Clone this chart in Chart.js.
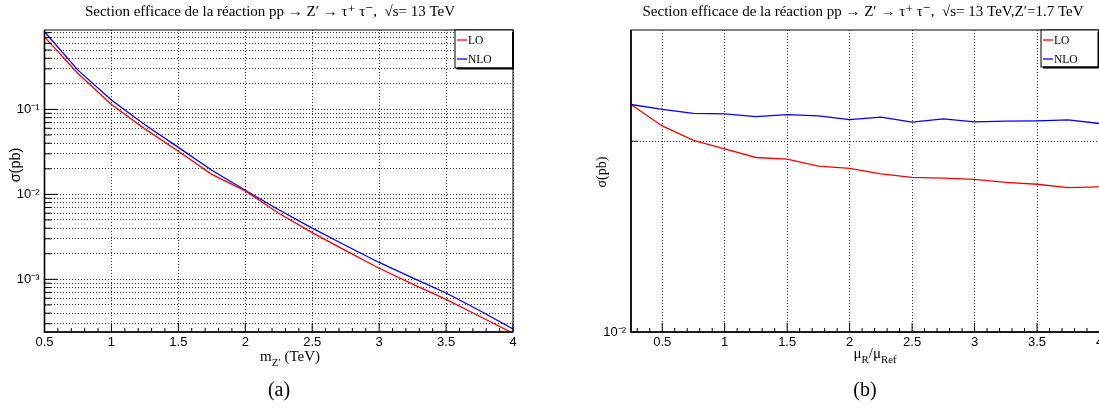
<!DOCTYPE html>
<html>
<head>
<meta charset="utf-8">
<script src="https://cdn.jsdelivr.net/npm/chart.js@4.4.0/dist/chart.umd.min.js"></script>
<style>
  html, body { margin: 0; padding: 0; background: #fff; overflow: hidden; width: 1099px; height: 412px; }
  .panel { position: absolute; top: 0; height: 412px; }
  #wrapA { left: 0; width: 540px; }
  #wrapB { left: 560px; width: 606px; }
</style>
</head>
<body>
<div id="wrapA" class="panel"><canvas id="chartA" width="540" height="412"></canvas></div>
<div id="wrapB" class="panel"><canvas id="chartB" width="606" height="412"></canvas></div>
<script>
// ─── Data ──────────────────────────────────────────────────────
// (a) cross section vs Z' mass (TeV)
const MASS = [0.5, 0.75, 1.0, 1.25, 1.5, 1.75, 2.0, 2.25, 2.5, 2.75, 3.0, 3.25, 3.5, 3.75, 4.0];
const SIGMA_LO_MASS  = [0.715, 0.265, 0.114, 0.059, 0.0322, 0.0172, 0.0110, 0.0060, 0.00355, 0.00218, 0.00135, 0.00088, 0.00058, 0.000368, 0.000232];
const SIGMA_NLO_MASS = [0.82, 0.29, 0.129, 0.066, 0.0357, 0.0192, 0.0112, 0.0066, 0.0040, 0.0025, 0.00158, 0.00104, 0.00069, 0.00043, 0.00026];

// (b) cross section vs renormalisation scale ratio, M(Z') = 1.7 TeV
const MU_RATIO = [0.25, 0.5, 0.75, 1.0, 1.25, 1.5, 1.75, 2.0, 2.25, 2.5, 2.75, 3.0, 3.25, 3.5, 3.75, 4.0];
const SIGMA_LO_MU  = [0.1558, 0.1203, 0.1010, 0.0913, 0.0822, 0.0806, 0.0741, 0.0720, 0.0674, 0.0647, 0.0641, 0.0631, 0.0608, 0.0595, 0.0571, 0.0576];
const SIGMA_NLO_MU = [0.1558, 0.1469, 0.1399, 0.1393, 0.1347, 0.1380, 0.1360, 0.1298, 0.1337, 0.1261, 0.1310, 0.1262, 0.1275, 0.1280, 0.1295, 0.1239];

const X_TICKS = [0.5, 1, 1.5, 2, 2.5, 3, 3.5, 4];
const Y_LABELS_A = [1e-3, 1e-2, 1e-1];
const Y_LABELS_B = [1e-2];
const Y_GRID_B = [1e-2, 1e-1];
const POW_TEXT = { '-1': '10⁻¹', '-2': '10⁻²', '-3': '10⁻³' };

const SERIF = '"Liberation Serif", "DejaVu Serif", serif';
const SANS = '"Liberation Sans", Arial, sans-serif';
const RED = '#ff0000';
const BLUE = '#0000ff';

// ─── Helpers ───────────────────────────────────────────────────
function isLabelled(v, list) {
    return list.some(l => Math.abs(Math.log10(v) - Math.log10(l)) < 1e-6);
}

function seg(ctx, x1, y1, x2, y2) {
    ctx.beginPath(); ctx.moveTo(x1, y1); ctx.lineTo(x2, y2); ctx.stroke();
}

// text made of runs: [text, 'sub' | 'sup' | undefined]
function drawRuns(ctx, runs, cx, baseY, size) {
    const pieces = runs.map(([t, mode]) => {
        const s = mode ? size * 0.72 : size;
        ctx.font = `${s}px ${SERIF}`;
        return { t, mode, s, w: ctx.measureText(t).width };
    });
    const total = pieces.reduce((a, p) => a + p.w, 0);
    let x = cx - total / 2;
    ctx.textAlign = 'left';
    ctx.textBaseline = 'alphabetic';
    for (const p of pieces) {
        ctx.font = `${p.s}px ${SERIF}`;
        const dy = p.mode === 'sub' ? size * 0.32 : p.mode === 'sup' ? -size * 0.4 : 0;
        ctx.fillText(p.t, x, baseY + dy);
        x += p.w;
    }
}

// ─── ROOT-like frame, inner ticks, legend box, titles ─────────
const rootFrame = {
    id: 'rootFrame',
    afterDraw(chart, args, opts) {
        const { ctx, chartArea: a, scales: { x, y } } = chart;
        ctx.save();
        ctx.strokeStyle = '#000';
        ctx.lineWidth = 1;
        ctx.strokeRect(a.left, a.top, a.right - a.left, a.bottom - a.top);
        ctx.lineWidth = 1.6;
        ctx.beginPath();
        ctx.moveTo(a.left, a.top); ctx.lineTo(a.left, a.bottom); ctx.lineTo(a.right, a.bottom);
        ctx.stroke();

        // ticks pointing into the pad
        ctx.lineWidth = 1;
        for (let i = Math.ceil(x.min * 10 - 1e-6); i <= Math.floor(x.max * 10 + 1e-6); i++) {
            const px = x.getPixelForValue(i / 10);
            seg(ctx, px, a.bottom, px, a.bottom - (i % 5 === 0 ? opts.xMajor : opts.xMinor));
        }
        for (const t of y.ticks) {
            const py = y.getPixelForValue(t.value);
            if (py < a.top + 0.5 || py > a.bottom - 0.5) continue;
            seg(ctx, a.left, py, a.left + (t.major ? opts.yMajor : opts.yMinor), py);
        }

        // legend box
        const lb = opts.legendBox;
        ctx.fillStyle = '#fff';
        ctx.fillRect(lb.left, lb.top, lb.right - lb.left, lb.bottom - lb.top);
        ctx.strokeStyle = '#000';
        ctx.lineWidth = 1;
        ctx.strokeRect(lb.left, lb.top, lb.right - lb.left, lb.bottom - lb.top);
        ctx.lineWidth = 2;
        seg(ctx, lb.right, lb.top + 2, lb.right, lb.bottom + 1);
        seg(ctx, lb.left + 2, lb.bottom + 0.5, lb.right, lb.bottom + 0.5);
        chart.data.datasets.forEach((ds, i) => {
            const ly = lb.top + 10 + i * 19;
            ctx.strokeStyle = ds.borderColor;
            ctx.lineWidth = 1.3;
            seg(ctx, lb.left + 2, ly, lb.left + 12, ly);
            ctx.fillStyle = '#000';
            ctx.font = `11.5px ${SERIF}`;
            ctx.textAlign = 'left';
            ctx.textBaseline = 'middle';
            ctx.fillText(ds.label, lb.left + 13, ly + 0.5);
        });

        // pad title
        ctx.fillStyle = '#000';
        ctx.font = `15px ${SERIF}`;
        ctx.textAlign = 'center';
        ctx.textBaseline = 'middle';
        ctx.fillText(opts.title.text, opts.title.x, opts.title.y);

        // y title
        const yt = opts.yTitle;
        ctx.save();
        ctx.translate(yt.x, yt.y);
        ctx.rotate(-Math.PI / 2);
        ctx.font = yt.font;
        ctx.textAlign = 'center';
        ctx.textBaseline = 'middle';
        ctx.fillText(yt.text, 0, 0);
        ctx.restore();

        // x title and caption
        drawRuns(ctx, opts.xTitle.runs, opts.xTitle.x, opts.xTitle.y, 15);
        ctx.font = `20px ${SERIF}`;
        ctx.textAlign = 'center';
        ctx.textBaseline = 'middle';
        ctx.fillText(opts.caption.text, opts.caption.x, opts.caption.y);
        ctx.restore();
    }
};

function lineSet(label, xs, ys, color) {
    return {
        label,
        data: xs.map((v, i) => ({ x: v, y: ys[i] })),
        borderColor: color,
        backgroundColor: color,
        borderWidth: 1.3,
        pointRadius: 0,
        tension: 0,
        fill: false
    };
}

function makePanel(canvasId, p) {
    return new Chart(document.getElementById(canvasId), {
        type: 'line',
        data: {
            datasets: [
                lineSet('LO', p.xs, p.lo, RED),
                lineSet('NLO', p.xs, p.nlo, BLUE)
            ]
        },
        plugins: [rootFrame],
        options: {
            responsive: false,
            animation: false,
            layout: { padding: { left: 0, right: p.padRight, top: 30, bottom: 0 } },
            plugins: {
                legend: { display: false },
                tooltip: { enabled: false },
                title: { display: false },
                rootFrame: p.frame
            },
            scales: {
                x: {
                    type: 'linear',
                    min: p.xMin,
                    max: 4,
                    afterBuildTicks: s => { s.ticks = X_TICKS.map(v => ({ value: v })); },
                    afterFit: s => { s.height = 80; },
                    grid: { color: 'rgba(0,0,0,0.8)', lineWidth: 1, drawTicks: false },
                    border: { display: false, dash: [1, 2] },
                    ticks: {
                        color: '#000',
                        padding: 3,
                        maxRotation: 0,
                        autoSkip: false,
                        font: { family: SANS, size: 13 },
                        callback: v => String(v)
                    }
                },
                y: {
                    type: 'logarithmic',
                    min: p.yMin,
                    max: p.yMax,
                    afterBuildTicks: p.yTicks,
                    afterFit: s => { s.width = p.left; },
                    grid: { color: 'rgba(0,0,0,0.8)', lineWidth: 1, drawTicks: false },
                    border: { display: false, dash: [1, 2] },
                    ticks: {
                        color: '#000',
                        padding: 5,
                        autoSkip: false,
                        font: { family: SANS, size: 13 },
                        callback: v => isLabelled(v, p.yLabels) ? POW_TEXT[Math.round(Math.log10(v))] : ''
                    }
                }
            }
        }
    });
}

// ─── Panel (a) ─────────────────────────────────────────────────
makePanel('chartA', {
    xs: MASS, lo: SIGMA_LO_MASS, nlo: SIGMA_NLO_MASS,
    xMin: 0.5, yMin: 2.4e-4, yMax: 0.86,
    left: 44.5, padRight: 27,
    yLabels: Y_LABELS_A,
    yTicks: s => {
        const t = [];
        for (let e = -4; e <= 0; e++) {
            for (let m = 1; m <= 9; m++) {
                const v = m * Math.pow(10, e);
                if (v >= s.min && v <= s.max) t.push({ value: v, major: m === 1 });
            }
        }
        s.ticks = t;
    },
    frame: {
        xMajor: 9, xMinor: 4, yMajor: 13, yMinor: 7,
        legendBox: { left: 455, top: 30, right: 513, bottom: 68 },
        title: { text: 'Section efficace de la réaction pp → Z′ → τ⁺ τ⁻,  √s= 13 TeV', x: 270, y: 12 },
        yTitle: { text: 'σ(pb)', x: 16, y: 165, font: `14.5px ${SANS}` },
        xTitle: { runs: [['m'], ['Z′', 'sub'], [' (TeV)']], x: 290, y: 361 },
        caption: { text: '(a)', x: 279, y: 391 }
    }
});

// ─── Panel (b) ─────────────────────────────────────────────────
makePanel('chartB', {
    xs: MU_RATIO, lo: SIGMA_LO_MU, nlo: SIGMA_NLO_MU,
    xMin: 0.25, yMin: 0.01, yMax: 0.383,
    left: 71, padRight: 66.5,
    yLabels: Y_LABELS_B,
    yTicks: s => { s.ticks = Y_GRID_B.map(v => ({ value: v, major: true })); },
    frame: {
        xMajor: 9, xMinor: 4, yMajor: 7, yMinor: 4,
        legendBox: { left: 481, top: 30, right: 538.5, bottom: 67 },
        title: { text: 'Section efficace de la réaction pp → Z′ → τ⁺ τ⁻,  √s= 13 TeV,Z′=1.7 TeV', x: 303, y: 12 },
        yTitle: { text: 'σ(pb)', x: 42, y: 172, font: `14px ${SERIF}` },
        xTitle: { runs: [['μ'], ['R', 'sub'], ['/μ'], ['Ref', 'sub']], x: 315, y: 358 },
        caption: { text: '(b)', x: 305, y: 391 }
    }
});
</script>
</body>
</html>
